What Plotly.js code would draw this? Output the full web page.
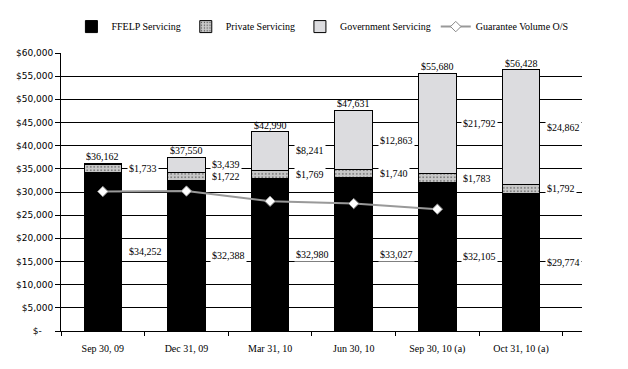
<!DOCTYPE html>
<html><head><meta charset="utf-8">
<script src="https://cdn.plot.ly/plotly-3.0.1.min.js"></script>
<style>html,body{margin:0;padding:0;background:#fff;}#chart{width:628px;height:369px;}</style>
</head><body><div id="chart"></div>
<script>
var categories = ["Sep 30, 09", "Dec 31, 09", "Mar 31, 10", "Jun 30, 10", "Sep 30, 10 (a)", "Oct 31, 10 (a)"];
var ffelp = [34252, 32388, 32980, 33027, 32105, 29774];
var privateServ = [1733, 1722, 1769, 1740, 1783, 1792];
var government = [177, 3439, 8241, 12863, 21792, 24862];
var governmentLabelShown = [false, true, true, true, true, true];
var totals = [36162, 37550, 42990, 47631, 55680, 56428];
var guarantee = [30100, 30200, 28000, 27500, 26300, null];
var yTickVals = [0, 5000, 10000, 15000, 20000, 25000, 30000, 35000, 40000, 45000, 50000, 55000, 60000];
var yTickText = ["$-\u00a0\u00a0\u00a0\u00a0", "$5,000", "$10,000", "$15,000", "$20,000", "$25,000", "$30,000", "$35,000", "$40,000", "$45,000", "$50,000", "$55,000", "$60,000"];

function money(v){ return "$" + v.toLocaleString("en-US"); }

var serif = "Liberation Serif, Times New Roman, serif";
var lblFont = {family: serif, size: 10, color: "#000"};

var traces = [
  {type: "bar", name: "FFELP Servicing", x: categories, y: ffelp,
   marker: {color: "#000000", line: {color: "#000", width: 1}}, hoverinfo: "skip"},
  {type: "bar", name: "Private Servicing", x: categories, y: privateServ,
   marker: {color: "#c8c8c8", line: {color: "#000", width: 1},
            pattern: {shape: ".", fgcolor: "#444", bgcolor: "#c8c8c8", size: 3.5, solidity: 0.15}}, hoverinfo: "skip"},
  {type: "bar", name: "Government Servicing", x: categories, y: government,
   marker: {color: "#dcdcdf", line: {color: "#000", width: 1}}, hoverinfo: "skip"},
  {type: "scatter", mode: "lines+markers", name: "Guarantee Volume O/S", x: categories, y: guarantee,
   line: {color: "#999999", width: 2},
   marker: {symbol: "diamond", size: 8, color: "#ffffff", line: {color: "#888888", width: 1}},
   connectgaps: false, hoverinfo: "skip"}
];

var ann = [];
for (var i = 0; i < categories.length; i++) {
  ann.push({x: categories[i], y: totals[i], xref: "x", yref: "y", text: money(totals[i]), showarrow: false,
            yanchor: "bottom", yshift: -1, font: lblFont});
  ann.push({x: categories[i], y: ffelp[i] / 2, xref: "x", yref: "y", text: money(ffelp[i]), showarrow: false,
            xanchor: "left", xshift: 24, font: lblFont, bgcolor: "#fff"});
  ann.push({x: categories[i], y: ffelp[i] + privateServ[i] / 2, xref: "x", yref: "y", text: money(privateServ[i]), showarrow: false,
            xanchor: "left", xshift: 24, font: lblFont, bgcolor: "#fff"});
  if (governmentLabelShown[i]) {
    ann.push({x: categories[i], y: ffelp[i] + privateServ[i] + government[i] / 2, xref: "x", yref: "y", text: money(government[i]), showarrow: false,
              xanchor: "left", xshift: 24, font: lblFont, bgcolor: "#fff"});
  }
}

var layout = {
  width: 628, height: 369,
  margin: {l: 61, r: 46, t: 45, b: 38, pad: 0},
  paper_bgcolor: "#fff", plot_bgcolor: "#fff",
  barmode: "stack", bargap: 0.55,
  showlegend: true,
  legend: {orientation: "h", x: 0.02, xanchor: "left", y: 1.095, yanchor: "middle",
           font: {family: serif, size: 10, color: "#000"}, traceorder: "normal", itemwidth: 30,
           bgcolor: "rgba(0,0,0,0)"},
  xaxis: {type: "category", showline: true, linecolor: "#000", linewidth: 1, ticks: "outside", tickson: "boundaries",
          ticklen: 4, tickcolor: "#000", showgrid: false, ticklabelstandoff: 8,
          tickfont: {family: serif, size: 10, color: "#000"}, fixedrange: true},
  yaxis: {range: [0, 60000], tickvals: yTickVals, ticktext: yTickText, showline: true, linecolor: "#000", linewidth: 1,
          ticks: "outside", ticklen: 5, tickcolor: "#000", showgrid: true, gridcolor: "#000", gridwidth: 1,
          zeroline: false, tickfont: {family: "DejaVu Sans, sans-serif", size: 9, color: "#000"}, fixedrange: true},
  annotations: ann
};

Plotly.newPlot("chart", traces, layout, {displayModeBar: false, staticPlot: true});
</script>
</body></html>
